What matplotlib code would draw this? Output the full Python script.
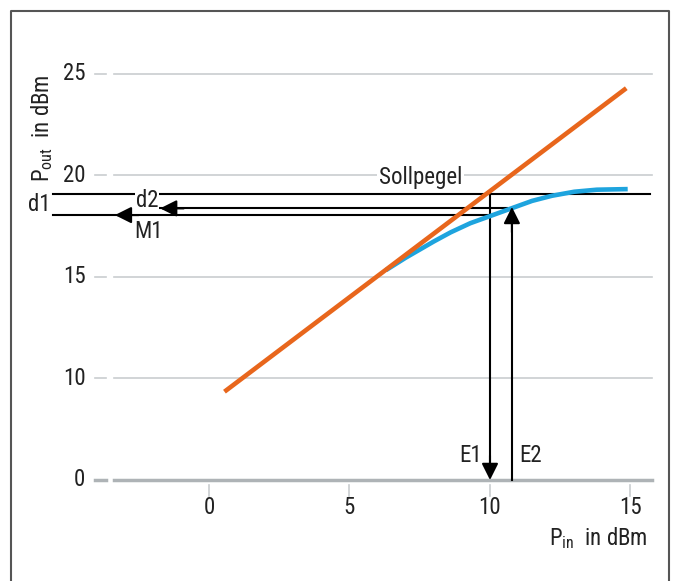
import numpy as np
import matplotlib.pyplot as plt
from matplotlib import font_manager
from matplotlib.lines import Line2D

# pick a narrow font if one is there
main_font = 'DejaVu Sans'
for name in ['Liberation Sans Narrow', 'DejaVu Sans Condensed', 'Roboto Condensed', 'Roboto']:
    try:
        font_manager.findfont(name, fallback_to_default=False)
        main_font = name
        break
    except ValueError:
        pass

plt.rcParams['font.family'] = [main_font, 'DejaVu Sans']
plt.rcParams['mathtext.fontset'] = 'custom'
plt.rcParams['mathtext.rm'] = main_font

# data
x_ticks = [0, 5, 10, 15]
y_ticks = [5, 10, 15, 20, 25]          # "0" sits where 5 would be (axis break)
y_tick_labels = ['0', '10', '15', '20', '25']

lin_x = [0.55, 14.85]                   # ideal linear amplifier
lin_y = [9.35, 24.3]

real_x = [6.3, 7.0, 8.0, 8.6, 9.3, 10.0, 10.8, 11.5, 12.2, 13.0, 13.8, 14.9]
real_y = [15.34, 15.95, 16.75, 17.2, 17.65, 18.0, 18.4, 18.75, 19.0, 19.2, 19.3, 19.33]

soll = 19.1      # Sollpegel
m1 = 18.05       # output at E1
d2_level = 18.38 # output at E2
e1 = 10.0
e2 = 10.78

ORANGE = '#e8661c'
BLUE = '#1ea4de'
GRID = '#c9cdd0'
AXIS = '#aeb3b6'
TXT = '#222222'
FS = 16.5

fig = plt.figure(figsize=(6.75, 5.81), dpi=100)
ax = fig.add_axes([0, 0, 1, 1])
ax.set_xlim(-7.438, 16.584)
ax.set_ylim(0.0246, 28.645)
ax.axis('off')

# frame (open at the bottom)
fig.add_artist(Line2D([11/675, 11/675, 669/675, 669/675],
                      [0, 1 - 11/581, 1 - 11/581, 0],
                      transform=fig.transFigure, color='#555555', lw=1.5))

# grid, tick dashes, labels
for yv, lab in zip(y_ticks, y_tick_labels):
    if yv == 5:
        ax.plot([-3.38, 15.77], [yv, yv], color=AXIS, lw=2.5, zorder=1)
        ax.plot([-4.06, -3.66], [yv, yv], color=AXIS, lw=2.5, zorder=1)
    else:
        ax.plot([-3.38, 15.77], [yv, yv], color=GRID, lw=1.2, zorder=1)
        ax.plot([-4.06, -3.66], [yv, yv], color=GRID, lw=1.2, zorder=1)
    ax.text(-4.4, yv, lab, ha='right', va='center', fontsize=FS, color=TXT)

for xv in x_ticks:
    ax.plot([xv, xv], [4.75, 4.22], color=GRID, lw=1.2)
    ax.text(xv, 3.65, str(xv), ha='center', va='center', fontsize=FS, color=TXT)

ax.text(-5.95, 22.35, r'P$_{\mathrm{out}}$  in dBm', rotation=90, ha='center',
        va='center', fontsize=FS, color=TXT)
ax.text(15.6, 2.15, r'P$_{\mathrm{in}}$  in dBm', ha='right', va='center',
        fontsize=FS, color=TXT)

# curves
ax.plot(real_x, real_y, color=BLUE, lw=3.3, solid_capstyle='butt', zorder=3)
ax.plot(lin_x, lin_y, color=ORANGE, lw=3.3, solid_capstyle='butt', zorder=4)

# reference lines
ax.plot([-5.55, 15.69], [soll, soll], color='k', lw=1.5, zorder=2)
ax.plot([-5.55, e1], [m1, m1], color='k', lw=1.5, zorder=2)
ax.plot([-1.74, 10.6], [d2_level, d2_level], color='k', lw=1.5, zorder=2)
ax.plot([e1, e1], [soll, 5.6], color='k', lw=1.5, zorder=2)
ax.plot([e2, e2], [5, 17.9], color='k', lw=1.5, zorder=2)

arrow = dict(arrowstyle='-|>,head_length=1.0,head_width=0.5', color='k',
             lw=1.5, mutation_scale=10, shrinkA=0, shrinkB=0)
ax.annotate('', xy=(-3.35, m1), xytext=(-2.5, m1), arrowprops=arrow, zorder=5)
ax.annotate('', xy=(-1.74, d2_level), xytext=(-0.9, d2_level), arrowprops=arrow, zorder=5)
ax.annotate('', xy=(e1, 5.0), xytext=(e1, 6.2), arrowprops=arrow, zorder=5)
ax.annotate('', xy=(e2, 18.45), xytext=(e2, 17.2), arrowprops=arrow, zorder=5)

# labels
white = dict(facecolor='white', edgecolor='none', pad=1.5)
ax.text(7.52, 19.9, 'Sollpegel', ha='center', va='center', fontsize=FS,
        color=TXT, bbox=white, zorder=6)
ax.text(-5.65, 18.55, 'd1', ha='right', va='center', fontsize=FS, color=TXT)
ax.text(-2.2, 18.78, 'd2', ha='center', va='center', fontsize=FS, color=TXT,
        bbox=dict(facecolor='white', edgecolor='none', pad=0.3), zorder=6)
ax.text(-2.15, 17.22, 'M1', ha='center', va='center', fontsize=FS, color=TXT)
ax.text(9.7, 6.2, 'E1', ha='right', va='center', fontsize=FS, color=TXT)
ax.text(11.05, 6.2, 'E2', ha='left', va='center', fontsize=FS, color=TXT)

fig.savefig('out.png', dpi=100, facecolor='white')
